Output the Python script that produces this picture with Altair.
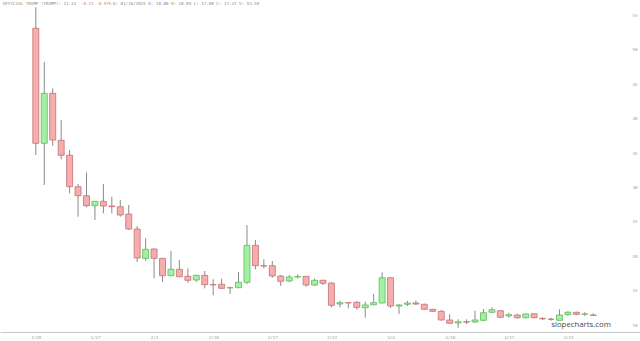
import altair as alt
import pandas as pd

# ---- data ----
tick_labels = ["1/20", "1/27", "2/3", "2/10", "2/17", "2/24", "3/3", "3/10", "3/17", "3/24"]
y_ticks = [10, 15, 20, 25, 30, 35, 40, 45, 50, 55]

opens = [53.13, 36.41, 43.68, 36.85, 34.67, 30.10, 28.79, 27.34, 27.98, 27.30,
         27.19, 26.13, 23.95, 19.69, 21.05, 19.69, 17.17, 18.10, 17.08, 16.54,
         17.22, 15.86, 15.92, 15.40, 15.42, 16.21, 21.58, 18.62, 18.62, 17.12,
         16.40, 16.98, 17.08, 15.81, 16.50, 16.10, 13.05, 13.24, 13.30, 12.51,
         12.95, 13.20, 16.87, 12.76, 13.01, 13.20, 13.01, 12.28, 11.99, 10.73,
         10.29, 10.48, 10.44, 10.68, 11.85, 12.08, 11.31, 11.45, 11.06, 11.64,
         10.95, 10.85, 10.68, 11.50, 11.85, 11.58, 11.45]
highs = [56.18, 48.27, 44.40, 39.80, 35.44, 30.49, 32.19, 27.98, 30.49, 28.65,
         28.17, 27.44, 24.39, 22.60, 21.10, 19.75, 20.76, 19.45, 18.24, 17.31,
         17.85, 16.64, 16.73, 15.57, 17.70, 24.53, 22.35, 19.55, 19.30, 17.27,
         17.27, 17.37, 17.10, 16.73, 16.58, 16.21, 13.53, 13.27, 13.49, 13.39,
         14.51, 17.66, 16.90, 13.05, 13.49, 13.53, 13.10, 12.33, 12.18, 11.56,
         10.83, 10.83, 12.08, 12.33, 12.57, 12.12, 11.79, 11.64, 11.70, 11.66,
         11.12, 11.06, 12.28, 12.03, 11.93, 11.85, 11.70]
lows = [34.71, 30.35, 36.06, 34.08, 29.14, 25.74, 27.11, 25.26, 26.24, 26.24,
        25.74, 23.81, 19.16, 19.35, 16.79, 16.29, 17.10, 16.93, 16.15, 16.29,
        15.33, 14.32, 15.23, 14.51, 15.40, 15.92, 18.10, 18.24, 16.87, 15.67,
        16.25, 16.76, 15.57, 15.71, 15.81, 12.57, 12.57, 12.43, 12.22, 11.06,
        12.86, 13.15, 12.47, 11.60, 12.76, 12.91, 12.18, 11.89, 10.62, 10.19,
        9.61, 10.15, 10.33, 10.54, 11.74, 11.02, 11.06, 10.92, 10.97, 10.97,
        10.73, 10.62, 10.66, 11.35, 11.41, 11.31, 11.31]
closes = [36.41, 43.68, 36.89, 34.67, 30.10, 28.79, 27.34, 27.98, 27.30, 27.20,
          25.99, 23.95, 19.74, 21.00, 19.69, 17.17, 18.10, 17.02, 16.50, 17.22,
          15.86, 15.84, 15.33, 15.42, 16.21, 21.58, 18.62, 18.58, 17.12, 16.35,
          16.98, 17.05, 15.81, 16.50, 16.06, 12.86, 13.24, 13.22, 12.57, 12.91,
          13.24, 16.87, 12.76, 12.91, 13.20, 13.05, 12.28, 11.99, 10.73, 10.25,
          10.48, 10.42, 10.73, 11.79, 12.22, 11.12, 11.50, 11.06, 11.60, 11.06,
          10.90, 10.83, 11.45, 11.85, 11.56, 11.60, 11.41]

header_main = "OFFICIAL TRUMP (TRUMP): 11.13"
header_change = "-0.11 -0.97%"
header_ohlc = "D: 01/26/2025 O: 18.88 H: 18.89 L: 17.08 C: 17.37 V: 93.59"
watermark = "slopecharts.com"

# ---- build table ----
df = pd.DataFrame({
    "i": list(range(len(opens))),
    "open": opens, "high": highs, "low": lows, "close": closes,
})
df["dir"] = ["up" if c >= o else "down" for o, c in zip(opens, closes)]

label_arr = "[" + ",".join("'" + s + "'" for s in tick_labels) + "]"

xscale = alt.Scale(domain=[-3.648, 70.94], nice=False, zero=False)
yscale = alt.Scale(domain=[8.983, 57.24], nice=False, zero=False)

xaxis = alt.Axis(values=[7 * k for k in range(len(tick_labels))],
                 labelExpr=label_arr + "[round(datum.value/7)]",
                 title=None, ticks=False, grid=False,
                 domainColor="#c8c8c8", domainWidth=1,
                 labelFontSize=4.2, labelColor="#999", labelFont="DejaVu Sans Mono",
                 labelPadding=3, labelOverlap=False, labelBound=False, labelFlush=False)
yaxis = alt.Axis(values=y_ticks, orient="right", title=None, ticks=False,
                 grid=False, domain=False, labelFontSize=4.2, labelColor="#999",
                 labelFont="DejaVu Sans Mono", labelAlign="right", labelPadding=-3,
                 labelOverlap=False, labelBound=False, labelFlush=False,
                 labelSeparation=0)

base = alt.Chart(df).encode(x=alt.X("i:Q", scale=xscale, axis=xaxis))

wicks = base.mark_rule(color="#8a8a8a", strokeWidth=1).encode(
    y=alt.Y("low:Q", scale=yscale, axis=yaxis),
    y2="high:Q",
)

bodies = base.mark_bar(size=6, strokeWidth=0.8).encode(
    y=alt.Y("open:Q", scale=yscale, axis=yaxis),
    y2="close:Q",
    fill=alt.Fill("dir:N", scale=alt.Scale(domain=["up", "down"],
                                           range=["#a2f0a2", "#f6adad"]), legend=None),
    stroke=alt.Stroke("dir:N", scale=alt.Scale(domain=["up", "down"],
                                               range=["#5dbb5d", "#c47272"]), legend=None),
)

def txt(s, x, y, color, size, font, align="left", weight="normal"):
    return alt.Chart(pd.DataFrame({"t": [s]})).mark_text(
        align=align, baseline="middle", color=color, fontSize=size, font=font,
        fontWeight=weight
    ).encode(text="t:N", x=alt.value(x), y=alt.value(y))

h1 = txt(header_main, 3, 4, "#888", 4.2, "DejaVu Sans Mono")
h2 = txt(header_change, 81, 4, "#e07070", 4.2, "DejaVu Sans Mono")
h3 = txt(header_ohlc, 113, 4, "#888", 4.2, "DejaVu Sans Mono")
wm = txt(watermark, 611, 325, "#4a4a4a", 7.8, "Open Sans", align="right")

chart = alt.layer(wicks, bodies, h1, h2, h3, wm).properties(
    width=640, height=332,
    autosize=alt.AutoSizeParams(type="none"),
    padding={"left": 0, "top": 0, "right": 0, "bottom": 9},
).configure_view(stroke=None).configure_axis(labelOverlap=False)

chart.save("out.html", embed_options={"renderer": "svg", "actions": False})
